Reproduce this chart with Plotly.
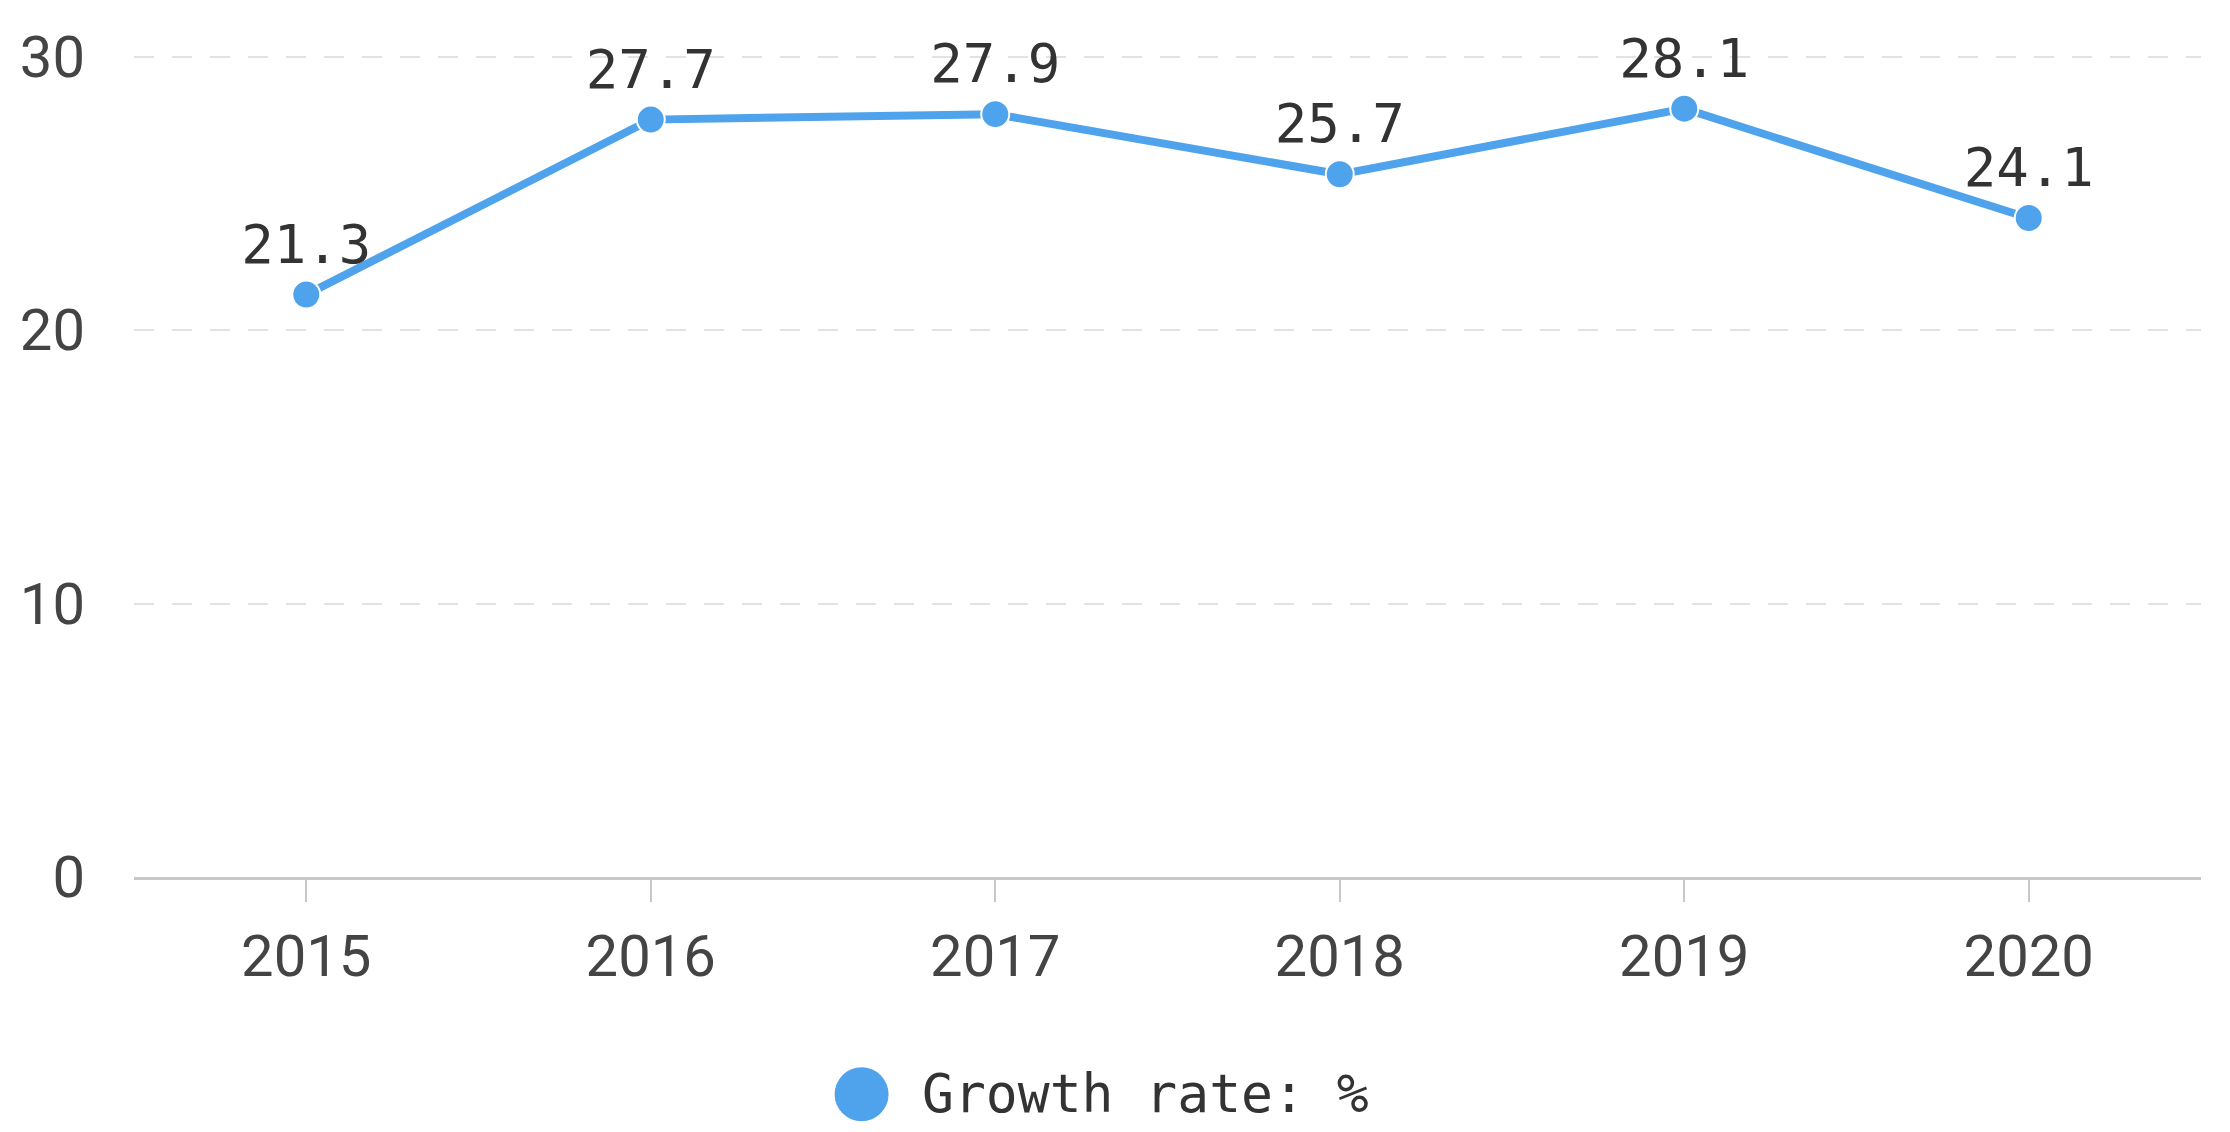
import plotly.graph_objects as go

years = ['2015', '2016', '2017', '2018', '2019', '2020']
growth = [21.3, 27.7, 27.9, 25.7, 28.1, 24.1]
y_ticks = [0, 10, 20, 30]
legend_name = 'Growth rate: %'

blue = '#4fa3ec'

fig = go.Figure()

fig.add_trace(
    go.Scatter(x=years, y=growth, mode='lines+markers+text',
               text=[str(v) for v in growth], textposition='top center',
               textfont=dict(family='DejaVu Sans Mono', size=54, color='#333333'),
               line=dict(color=blue, width=8),
               marker=dict(color=blue, size=28, line=dict(color='white', width=2)),
               cliponaxis=False, showlegend=False))

# legend drawn by hand so the dot can be as big as in the original
fig.add_shape(type='circle', xref='paper', yref='paper',
              xsizemode='pixel', ysizemode='pixel',
              xanchor=0.352, yanchor=-0.264,
              x0=-27, x1=27, y0=-27, y1=27,
              fillcolor=blue, line=dict(width=0))
fig.add_annotation(text=legend_name, xref='paper', yref='paper',
                   x=0.3806, y=-0.2625, xanchor='left', yanchor='middle',
                   showarrow=False, borderpad=0,
                   font=dict(family='DejaVu Sans Mono', size=53, color='#333333'))

# page body has an 8px margin, so keep the figure a bit smaller than the window
fig.update_layout(
    width=2214, height=1116,
    margin=dict(l=120, r=21, t=46, b=247),
    paper_bgcolor='white', plot_bgcolor='white',
    font=dict(family='Roboto', size=58, color='#444444'),
    xaxis=dict(type='category', range=[-0.5, 5.5],
               showgrid=False, showline=True, linecolor='#c8c8c8', linewidth=3,
               ticks='outside', ticklen=22, tickwidth=2, tickcolor='#c8c8c8',
               ticklabelstandoff=4, zeroline=False),
    yaxis=dict(range=[0, 30.1], tickvals=y_ticks,
               showgrid=True, gridcolor='#e2e2e2', gridwidth=2, griddash='20px,18px',
               zeroline=False, showline=False, ticks='', ticklabelstandoff=48),
)

fig.write_html('out.html')
